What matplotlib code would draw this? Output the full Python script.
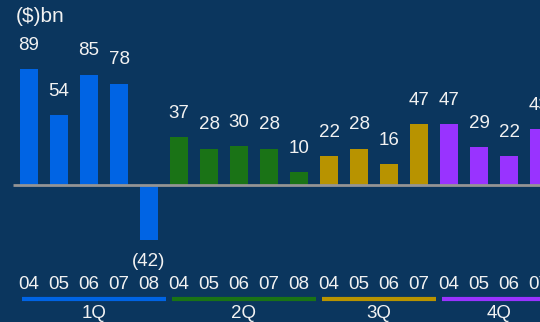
import matplotlib
matplotlib.use("Agg")
import matplotlib.pyplot as plt
import matplotlib.transforms as mtransforms

# data
quarters = ["1Q", "2Q", "3Q", "4Q"]
years = [["04", "05", "06", "07", "08"],
         ["04", "05", "06", "07", "08"],
         ["04", "05", "06", "07"],
         ["04", "05", "06", "07"]]
values = [[89, 54, 85, 78, -42],
          [37, 28, 30, 28, 10],
          [22, 28, 16, 47],
          [47, 29, 22, 43]]
colors = ["#0064e4", "#1a7316", "#b89300", "#9933ff"]

bg = "#0b365e"
txt = "#f2f2f2"
plt.rcParams['font.family'] = ['Liberation Sans', 'DejaVu Sans']

fig = plt.figure(figsize=(5.4, 3.22), dpi=100, facecolor=bg)
ax = fig.add_axes([0, 0, 1, 1])
ax.set_facecolor(bg)
ax.set_xlim(-29 / 30, 511 / 30)
ax.set_ylim(-137 / 1.3, 185 / 1.3)
ax.axis("off")

tr = mtransforms.blended_transform_factory(ax.transData, fig.transFigure)

i = 0
for q, yrs, vals, c in zip(quarters, years, values, colors):
    xs = list(range(i, i + len(vals)))
    ax.bar(xs, vals, width=0.6, color=c, zorder=2)
    for x, v, y in zip(xs, vals, yrs):
        lbl = str(v) if v >= 0 else "(%d)" % -v
        off = 17 if v >= 0 else -16
        ax.annotate(lbl, (x, v), xytext=(0, off), textcoords="offset points",
                    ha="center", va="center", color=txt, fontsize=13.5)
        ax.text(x, 0.115, y, transform=tr, ha="center", va="center",
                color=txt, fontsize=13.5)
    x0 = xs[0] - 0.22
    x1 = xs[-1] + 0.55
    ax.plot([x0, x1], [0.071, 0.071], transform=tr, color=c, lw=3,
            solid_capstyle="butt", clip_on=False)
    ax.text((x0 + x1) / 2, 0.026, q, transform=tr, ha="center", va="center",
            color=txt, fontsize=13.5)
    i += len(vals)

ax.hlines(0, -0.53, 17.5, color="#949494", lw=2, zorder=3)

fig.text(16 / 540, 1 - 17 / 322, "($)bn", ha="left", va="center",
         color=txt, fontsize=15)

fig.savefig("out.png", dpi=100, facecolor=bg)
